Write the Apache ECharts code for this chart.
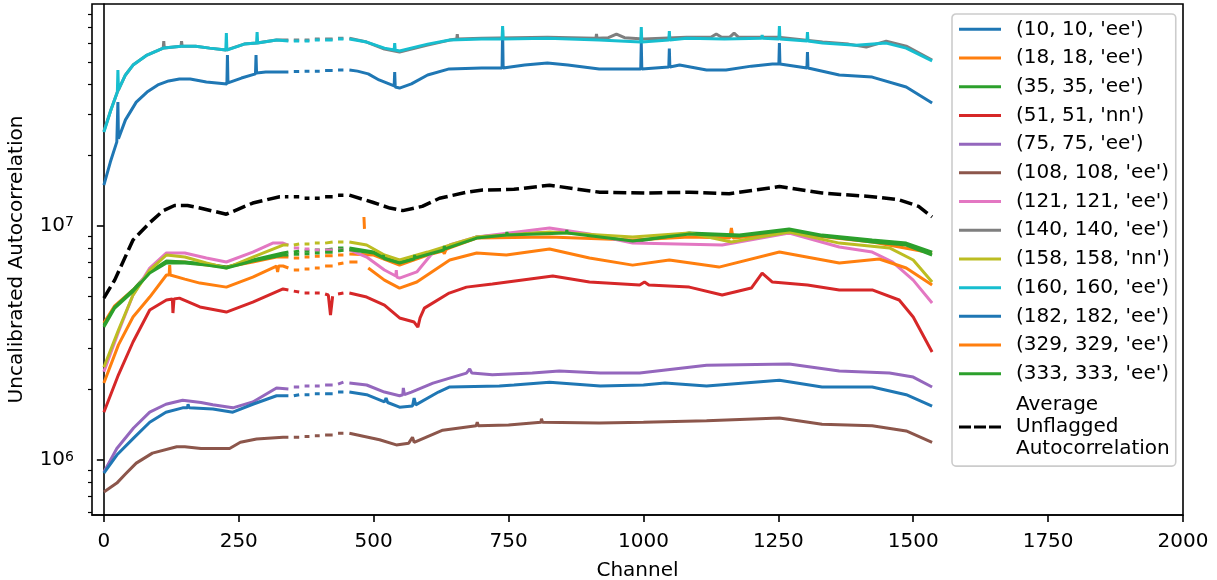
<!DOCTYPE html>
<html>
<head>
<meta charset="utf-8">
<script src="https://cdn.jsdelivr.net/npm/echarts@6.0.0/dist/echarts.min.js"></script>
<style>
  html, body { margin: 0; padding: 0; background: #fff; }
  #chart { width: 1217px; height: 580px; }
</style>
</head>
<body>
<div id="chart"></div>
<script>
// channels with no data inside the flagged band (lines break here)
var gapBreaks = [347, 367, 386, 405, 429, 449];

var xTicks = [0, 250, 500, 750, 1000, 1250, 1500, 1750, 2000];
var yMajor = [1e6, 1e7];
var yMinor = [6e5, 7e5, 8e5, 9e5, 2e6, 3e6, 4e6, 5e6, 6e6, 7e6, 8e6, 9e6, 2e7, 3e7, 4e7, 5e7, 6e7, 7e7, 8e7];

var names = ["(10, 10, 'ee')", "(18, 18, 'ee')", "(35, 35, 'ee')", "(51, 51, 'nn')", "(75, 75, 'ee')",
  "(108, 108, 'ee')", "(121, 121, 'ee')", "(140, 140, 'ee')", "(158, 158, 'nn')", "(160, 160, 'ee')",
  "(182, 182, 'ee')", "(329, 329, 'ee')", "(333, 333, 'ee')"];
var avgName = 'Average Unflagged Autocorrelation';

var ant10 = [[0,1.49e7],[12,1.87e7],[24,2.28e7],[26,3.37e7],[27,2.35e7],[40,2.83e7],[60,3.37e7],[80,3.72e7],[100,3.99e7],[120,4.15e7],[140,4.23e7],[160,4.23e7],[190,4.11e7],[228,4.03e7],[229,5.35e7],[230,4.07e7],[255,4.27e7],[281,4.45e7],[282,5.35e7],[283,4.49e7],[300,4.53e7],[330,4.53e7],
  [342,4.53e7],[352,4.55e7],[362,4.55e7],[372,4.57e7],[381,4.57e7],[391,4.57e7],[400,4.57e7],[410,4.6e7],[424,4.6e7],[434,4.62e7],[444,4.62e7],[455,4.62e7],
  [470,4.57e7],[490,4.45e7],[510,4.19e7],[538,3.95e7],[539,4.53e7],[540,3.91e7],[548,3.87e7],[570,4.03e7],[600,4.4e7],[640,4.67e7],[700,4.71e7],[738,4.71e7],[739,6.84e7],[740,4.71e7],[780,4.85e7],[822,4.95e7],[860,4.85e7],[918,4.67e7],[960,4.67e7],[995,4.67e7],[996,6.02e7],[997,4.67e7],[1047,4.76e7],[1048,5.7e7],[1049,4.76e7],[1067,4.85e7],[1117,4.62e7],[1153,4.62e7],[1200,4.8e7],[1239,4.9e7],[1251,4.9e7],[1252,6.02e7],[1253,4.9e7],[1303,4.71e7],[1304,5.51e7],[1305,4.71e7],[1363,4.4e7],[1424,4.31e7],[1487,3.91e7],[1535,3.34e7]];

var ant18 = [[0,3.84e6],[20,4.55e6],[54,5.32e6],[85,6.35e6],[116,7.0e6],[150,7.0e6],[190,6.79e6],[227,6.66e6],[276,7.0e6],[320,7.35e6],
  [342,7.35e6],[352,7.28e6],[362,7.28e6],[372,7.35e6],[381,7.35e6],[391,7.4e6],[400,7.4e6],[410,7.45e6],[424,7.45e6],[434,7.5e6],[444,7.5e6],[455,7.58e6],
  [500,7.5e6],[548,6.79e6],[600,7.5e6],[628,7.8e6],[631,7.6e6],[634,7.9e6],[641,8.04e6],[691,8.86e6],[826,8.95e6],[980,8.69e6],[1085,8.95e6],[1160,8.86e6],[1163,9.78e6],[1166,8.86e6],[1270,9.31e6],[1424,8.52e6],[1535,7.65e6]];

var ant35 = [[0,3.77e6],[20,4.5e6],[54,5.32e6],[85,6.35e6],[116,7.07e6],[150,7.0e6],[190,6.86e6],[227,6.66e6],[276,7.14e6],[332,7.65e6],
  [342,7.72e6],[352,7.72e6],[362,7.8e6],[372,7.8e6],[381,7.8e6],[391,7.88e6],[400,7.88e6],[410,7.88e6],[424,7.96e6],[434,8.04e6],[444,8.04e6],[455,8.04e6],
  [500,7.72e6],[530,7.28e6],[548,7.07e6],[580,7.35e6],[610,7.72e6],[641,8.11e6],[691,8.95e6],[760,9.22e6],[857,9.4e6],[920,9.03e6],[980,8.52e6],[1085,9.31e6],[1178,9.12e6],[1270,9.69e6],[1331,9.12e6],[1424,8.69e6],[1487,8.43e6],[1535,7.72e6]];

var ant51 = [[0,1.6e6],[27,2.31e6],[54,3.19e6],[85,4.37e6],[116,4.82e6],[127,4.87e6],[128,4.24e6],[130,4.87e6],[140,4.91e6],[178,4.5e6],[227,4.28e6],[276,4.72e6],[332,5.37e6],
  [342,5.32e6],[352,5.26e6],[362,5.21e6],[372,5.16e6],[381,5.16e6],[391,5.16e6],[400,5.16e6],[410,5.11e6],[416,5.06e6],[420,4.16e6],[424,5.0e6],[434,5.11e6],[444,5.16e6],[455,5.16e6],
  [487,4.96e6],[520,4.58e6],[548,4.04e6],[575,3.88e6],[582,3.69e6],[586,4.04e6],[594,4.45e6],[640,5.16e6],[672,5.47e6],[720,5.64e6],[832,6.1e6],[900,5.75e6],[993,5.58e6],[1002,5.75e6],[1010,5.58e6],[1085,5.47e6],[1146,5.06e6],[1200,5.42e6],[1220,6.28e6],[1239,5.75e6],[1304,5.58e6],[1363,5.32e6],[1424,5.32e6],[1474,4.82e6],[1500,4.08e6],[1535,2.89e6]];

var ant75 = [[0,8.88e5],[24,1.12e6],[55,1.37e6],[85,1.6e6],[115,1.73e6],[146,1.8e6],[180,1.76e6],[202,1.72e6],[239,1.67e6],[276,1.77e6],[320,2.03e6],
  [342,2.01e6],[352,2.05e6],[362,2.05e6],[372,2.07e6],[381,2.07e6],[391,2.07e6],[400,2.07e6],[410,2.09e6],[424,2.09e6],[434,2.11e6],[444,2.15e6],[455,2.13e6],
  [487,2.09e6],[520,1.95e6],[548,1.88e6],[554,1.9e6],[555,2.03e6],[557,1.9e6],[570,1.95e6],[610,2.13e6],[672,2.35e6],[678,2.45e6],[682,2.35e6],[720,2.31e6],[794,2.35e6],[844,2.4e6],[920,2.35e6],[993,2.35e6],[1117,2.54e6],[1270,2.57e6],[1363,2.4e6],[1456,2.35e6],[1500,2.26e6],[1535,2.05e6]];

var ant108 = [[0,7.31e5],[24,7.97e5],[40,8.71e5],[60,9.7e5],[90,1.07e6],[135,1.14e6],[150,1.14e6],[180,1.12e6],[233,1.12e6],[253,1.19e6],[283,1.23e6],[332,1.25e6],
  [342,1.25e6],[352,1.25e6],[362,1.25e6],[372,1.26e6],[381,1.26e6],[391,1.27e6],[400,1.27e6],[410,1.28e6],[424,1.28e6],[434,1.3e6],[444,1.3e6],[455,1.3e6],
  [511,1.22e6],[542,1.16e6],[565,1.18e6],[572,1.25e6],[575,1.19e6],[628,1.34e6],[690,1.4e6],[692,1.45e6],[694,1.4e6],[750,1.41e6],[810,1.45e6],[811,1.5e6],[813,1.45e6],[918,1.44e6],[1000,1.45e6],[1117,1.47e6],[1252,1.51e6],[1331,1.42e6],[1424,1.4e6],[1487,1.33e6],[1535,1.19e6]];

var ant121 = [[0,2.38e6],[27,3.52e6],[54,5.06e6],[85,6.6e6],[116,7.65e6],[150,7.65e6],[190,7.28e6],[227,7.0e6],[276,7.72e6],[313,8.43e6],[332,8.43e6],
  [342,8.27e6],[352,8.04e6],[362,8.04e6],[372,7.96e6],[381,7.96e6],[391,7.88e6],[400,7.88e6],[410,7.88e6],[424,7.88e6],[434,7.88e6],[444,7.88e6],[455,7.88e6],
  [487,7.35e6],[520,6.47e6],[541,6.1e6],[542,6.47e6],[543,6.04e6],[548,5.98e6],[580,6.35e6],[609,7.65e6],[641,8.27e6],[691,8.95e6],[826,9.78e6],[900,9.22e6],[980,8.43e6],[1146,8.27e6],[1270,9.31e6],[1363,8.11e6],[1424,7.72e6],[1462,7.0e6],[1500,5.86e6],[1535,4.68e6]];

var ant140 = [[0,2.53e7],[13,3.12e7],[25,3.72e7],[27,3.8e7],[40,4.4e7],[54,4.85e7],[80,5.35e7],[110,5.73e7],[111,6.14e7],[112,5.73e7],[143,5.84e7],[144,6.14e7],[145,5.84e7],[170,5.84e7],[196,5.73e7],[226,5.62e7],[260,5.96e7],[283,6.02e7],[320,6.2e7],
  [342,6.2e7],[352,6.2e7],[362,6.2e7],[372,6.2e7],[381,6.2e7],[391,6.27e7],[400,6.27e7],[410,6.27e7],[424,6.27e7],[434,6.32e7],[444,6.32e7],[455,6.32e7],
  [487,6.08e7],[520,5.68e7],[548,5.51e7],[600,5.9e7],[641,6.2e7],[654,6.27e7],[655,6.58e7],[656,6.27e7],[700,6.32e7],[822,6.38e7],[912,6.32e7],[913,6.58e7],[914,6.32e7],[935,6.35e7],[950,6.58e7],[965,6.35e7],[1000,6.27e7],[1080,6.38e7],[1125,6.38e7],[1135,6.58e7],[1145,6.38e7],[1160,6.38e7],[1168,6.64e7],[1176,6.38e7],[1250,6.38e7],[1332,6.08e7],[1380,5.96e7],[1413,5.79e7],[1450,6.14e7],[1487,5.84e7],[1535,5.1e7]];

var ant158 = [[0,2.49e6],[27,3.59e6],[54,5.06e6],[85,6.47e6],[116,7.5e6],[150,7.35e6],[190,6.93e6],[227,6.6e6],[276,7.35e6],[332,8.27e6],
  [342,8.27e6],[352,8.27e6],[362,8.35e6],[372,8.35e6],[381,8.35e6],[391,8.43e6],[400,8.43e6],[410,8.43e6],[424,8.52e6],[434,8.52e6],[444,8.52e6],[455,8.52e6],
  [487,8.27e6],[520,7.5e6],[548,7.14e6],[600,7.72e6],[641,8.27e6],[691,8.95e6],[826,9.4e6],[980,8.95e6],[1085,9.31e6],[1163,8.52e6],[1270,9.4e6],[1363,8.43e6],[1456,8.04e6],[1500,7.14e6],[1535,5.75e6]];

var ant160 = [[0,2.51e7],[13,3.12e7],[25,3.72e7],[26,4.62e7],[27,3.8e7],[40,4.4e7],[54,4.85e7],[80,5.35e7],[110,5.73e7],[144,5.84e7],[170,5.84e7],[196,5.73e7],[226,5.62e7],[227,6.64e7],[228,5.62e7],[260,5.96e7],[283,6.02e7],[284,6.71e7],[285,6.02e7],[320,6.2e7],
  [342,6.14e7],[352,6.14e7],[362,6.14e7],[372,6.14e7],[381,6.14e7],[391,6.2e7],[400,6.2e7],[410,6.2e7],[424,6.2e7],[434,6.27e7],[444,6.27e7],[455,6.27e7],
  [487,6.08e7],[520,5.73e7],[538,5.62e7],[539,6.02e7],[540,5.62e7],[548,5.57e7],[600,5.96e7],[641,6.2e7],[700,6.27e7],[738,6.27e7],[739,7.12e7],[740,6.27e7],[822,6.32e7],[918,6.2e7],[995,6.08e7],[996,7.05e7],[997,6.08e7],[1047,6.2e7],[1048,6.78e7],[1049,6.2e7],[1080,6.32e7],[1150,6.27e7],[1219,6.32e7],[1220,6.52e7],[1221,6.32e7],[1251,6.27e7],[1252,7.12e7],[1253,6.27e7],[1303,6.14e7],[1304,6.71e7],[1305,6.14e7],[1332,6.02e7],[1394,5.9e7],[1450,6.02e7],[1487,5.73e7],[1535,5.05e7]];

var ant182 = [[0,8.79e5],[24,1.05e6],[55,1.24e6],[85,1.45e6],[115,1.6e6],[146,1.67e6],[155,1.67e6],[156,1.73e6],[158,1.67e6],[202,1.65e6],[239,1.6e6],[276,1.73e6],[320,1.88e6],
  [342,1.88e6],[352,1.88e6],[362,1.9e6],[372,1.9e6],[381,1.9e6],[391,1.92e6],[400,1.92e6],[410,1.92e6],[424,1.92e6],[434,1.95e6],[444,1.95e6],[455,1.95e6],
  [487,1.9e6],[520,1.77e6],[523,1.84e6],[526,1.76e6],[548,1.68e6],[572,1.7e6],[575,1.84e6],[578,1.72e6],[620,1.95e6],[641,2.05e6],[733,2.07e6],[760,2.09e6],[826,2.15e6],[920,2.07e6],[1000,2.09e6],[1040,2.13e6],[1117,2.07e6],[1252,2.19e6],[1331,2.05e6],[1424,2.05e6],[1487,1.9e6],[1535,1.7e6]];

var ant329 = [[0,2.13e6],[27,3.1e6],[54,4.08e6],[85,4.96e6],[116,6.16e6],[121,6.16e6],[122,6.79e6],[123,6.16e6],[150,5.92e6],[178,5.69e6],[227,5.47e6],[276,6.04e6],[320,6.73e6],[322,6.35e6],[324,6.73e6],[332,6.73e6],
  [342,6.6e6],[352,6.47e6],[362,6.47e6],[372,6.54e6],[381,6.54e6],[391,6.6e6],[400,6.6e6],[410,6.73e6],[424,6.73e6],[434,6.86e6],[444,6.93e6],[455,7.0e6],[470,7.0e6],
  [476,null],[482,1.09e7],[483,9.7e6],[486,null],
  [490,6.6e6],[520,5.86e6],[548,5.42e6],[580,5.75e6],[641,7.14e6],[691,7.65e6],[746,7.5e6],[826,7.96e6],[900,7.28e6],[980,6.79e6],[1048,7.14e6],[1140,6.66e6],[1252,7.72e6],[1363,6.93e6],[1437,7.21e6],[1487,6.6e6],[1535,5.58e6]];

var ant333 = [[0,3.7e6],[20,4.45e6],[54,5.25e6],[85,6.28e6],[116,6.93e6],[150,6.93e6],[190,6.79e6],[227,6.6e6],[276,7.07e6],[332,7.5e6],
  [342,7.5e6],[352,7.55e6],[362,7.55e6],[372,7.6e6],[381,7.6e6],[391,7.65e6],[400,7.65e6],[410,7.7e6],[424,7.7e6],[434,7.8e6],[444,7.85e6],[455,7.9e6],
  [500,7.65e6],[517,7.3e6],[518,7.5e6],[519,7.25e6],[548,6.93e6],[575,7.21e6],[576,7.5e6],[577,7.28e6],[610,7.65e6],[630,7.88e6],[631,8.2e6],[632,7.96e6],[691,8.86e6],[746,9.12e6],[747,9.4e6],[748,9.12e6],[857,9.31e6],[858,9.6e6],[859,9.31e6],[920,8.95e6],[980,8.6e6],[1085,9.22e6],[1178,9.03e6],[1270,9.6e6],[1331,9.03e6],[1424,8.52e6],[1487,8.27e6],[1535,7.5e6]];

var avgAuto = [[0,4.91e6],[20,5.86e6],[54,8.69e6],[85,1.03e7],[110,1.16e7],[131,1.22e7],[155,1.22e7],[178,1.19e7],[227,1.12e7],[276,1.25e7],[326,1.33e7],
  [342,1.33e7],[352,1.33e7],[362,1.33e7],[372,1.31e7],[381,1.31e7],[391,1.31e7],[400,1.31e7],[410,1.33e7],[424,1.33e7],[434,1.35e7],[444,1.35e7],[455,1.35e7],
  [498,1.26e7],[530,1.19e7],[554,1.16e7],[590,1.21e7],[622,1.31e7],[672,1.39e7],[702,1.42e7],[760,1.43e7],[826,1.49e7],[870,1.44e7],[919,1.39e7],[1005,1.38e7],[1085,1.39e7],[1159,1.37e7],[1252,1.47e7],[1331,1.38e7],[1424,1.33e7],[1474,1.29e7],[1510,1.21e7],[1535,1.09e7]];

var antData = [ant10, ant18, ant35, ant51, ant75, ant108, ant121, ant140, ant158, ant160, ant182, ant329, ant333];
var colors = ['#1f77b4', '#ff7f0e', '#2ca02c', '#d62728', '#9467bd', '#8c564b', '#e377c2', '#7f7f7f', '#bcbd22', '#17becf', '#1f77b4', '#ff7f0e', '#2ca02c'];

var FONT = 'DejaVu Sans';

function withGaps(pts) {
  var out = pts.slice();
  gapBreaks.forEach(function (b) { out.push([b, null]); });
  out.sort(function (a, b) { return a[0] - b[0]; });
  return out;
}

var series = antData.map(function (d, i) {
  return {
    name: names[i],
    type: 'line',
    data: withGaps(d),
    symbol: 'none',
    connectNulls: false,
    lineStyle: { color: colors[i], width: 3 },
    itemStyle: { color: colors[i] },
    z: 2 + i
  };
});
series.push({
  name: avgName,
  type: 'line',
  data: withGaps(avgAuto),
  symbol: 'none',
  connectNulls: false,
  lineStyle: { color: '#000', width: 3.5, type: [13, 5] },
  itemStyle: { color: '#000' },
  z: 20
});

// legend: plain bars for antennas, dashed bar and 3-line label for the average
var legendData = names.slice();
legendData.push({
  name: avgName,
  icon: 'path://M0,0h12v3h-12zM15,0h12v3h-12zM30,0h12v3h-12z',
  textStyle: { fontFamily: FONT, fontSize: 20, color: '#000', lineHeight: 22, padding: [4, 0, 8, 10] }
});

var chart = echarts.init(document.getElementById('chart'), null, { renderer: 'canvas' });
chart.setOption({
  animation: false,
  backgroundColor: '#fff',
  textStyle: { fontFamily: FONT },
  grid: { left: 92, right: 34, top: 4, bottom: 65, outerBoundsMode: 'none', containLabel: false,
    show: true, borderColor: '#000', borderWidth: 1.6, backgroundColor: 'transparent' },
  xAxis: {
    type: 'value', min: -22, max: 2000,
    name: 'Channel', nameLocation: 'middle', nameGap: 46,
    nameTextStyle: { fontSize: 20, color: '#000', fontFamily: FONT },
    axisLine: { show: true, lineStyle: { color: '#000', width: 1.6 } },
    axisTick: { show: true, length: 7, lineStyle: { color: '#000', width: 1.6 }, customValues: xTicks },
    axisLabel: { fontSize: 20, color: '#000', margin: 17, fontFamily: FONT, customValues: xTicks,
      formatter: function (v) { return String(v); } },
    splitLine: { show: false }
  },
  yAxis: [{
    type: 'log', logBase: 10, min: 5.825e5, max: 8.84e7,
    name: 'Uncalibrated Autocorrelation', nameLocation: 'middle', nameGap: 65,
    nameTextStyle: { fontSize: 20, color: '#000', fontFamily: FONT },
    axisLine: { show: true, lineStyle: { color: '#000', width: 1.6 } },
    axisTick: { show: true, length: 7, lineStyle: { color: '#000', width: 1.6 }, customValues: yMajor },
    axisLabel: {
      margin: 18, customValues: yMajor,
      formatter: function (v) { return '{b|10}{s|' + Math.round(Math.log10(v)) + '}'; },
      rich: {
        b: { fontSize: 20, color: '#000', fontFamily: FONT },
        s: { fontSize: 14, color: '#000', fontFamily: FONT, verticalAlign: 'top' }
      }
    },
    splitLine: { show: false }
  }, {
    type: 'log', logBase: 10, min: 5.825e5, max: 8.84e7, position: 'left', offset: 0,
    axisLine: { show: false },
    axisTick: { show: true, length: 4, lineStyle: { color: '#000', width: 1.2 }, customValues: yMinor },
    axisLabel: { show: false },
    splitLine: { show: false }
  }],
  legend: {
    orient: 'vertical', left: 952, top: 14,
    padding: [1, 6, 0, 7],
    icon: 'rect',
    itemWidth: 42, itemHeight: 3, itemGap: 0,
    itemStyle: { borderWidth: 0 },
    selectedMode: false,
    backgroundColor: 'rgba(255,255,255,0.8)',
    borderColor: '#cccccc', borderWidth: 1.6, borderRadius: 4,
    textStyle: { fontFamily: FONT, fontSize: 20, color: '#000', lineHeight: 28.7, padding: [0, 0, 0, 10] },
    formatter: function (n) { return n === avgName ? n.split(' ').join('\n') : n; },
    data: legendData
  },
  series: series
});
</script>
</body>
</html>
